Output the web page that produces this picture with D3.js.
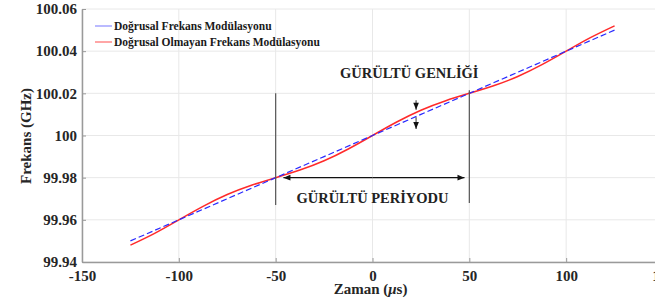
<!DOCTYPE html>
<html>
<head>
<meta charset="utf-8">
<script src="https://cdn.jsdelivr.net/npm/d3@7"></script>
<style>
  body { margin: 0; background: #fff; }
  svg text { font-family: "Liberation Serif", "Times New Roman", serif; font-weight: bold; }
</style>
</head>
<body>
<div id="chart"></div>
<script>
// Data
const timeLinear = [-125, -100, -75, -50, -25, 0, 25, 50, 75, 100, 125];
const freqLinear = [99.95, 99.96, 99.97, 99.98, 99.99, 100, 100.01, 100.02, 100.03, 100.04, 100.05];

const timeNonlinear = [-125, -112.5, -100, -87.5, -75, -62.5, -50, -37.5, -25, -12.5, 0,
                       12.5, 25, 37.5, 50, 62.5, 75, 87.5, 100, 112.5, 125];
const freqNonlinear = [99.948, 99.9536, 99.96, 99.9664, 99.972, 99.9764, 99.98, 99.9836, 99.988, 99.9936, 100,
                       100.0064, 100.012, 100.0164, 100.02, 100.0236, 100.028, 100.0336, 100.04, 100.0464, 100.052];

const xTicks = [-150, -100, -50, 0, 50, 100, 150];
const yTicks = [99.94, 99.96, 99.98, 100, 100.02, 100.04, 100.06];
const seriesNames = ['Doğrusal Frekans Modülasyonu', 'Doğrusal Olmayan Frekans Modülasyonu'];

// annotation anchors (data units)
const periodMarks = [{ t: -50, top: 100.02, bottom: 99.967 }, { t: 50, top: 100.0215, bottom: 99.968 }];
const periodArrow = { from: -46, to: 47.5, f: 99.98 };
const ampArrow = { t: 22.5, upper: [100.0167, 100.0122], lower: [100.0086, 100.0031] };

const width = 664, height = 300;
const plotLeft = 82, plotRight = 663, plotTop = 9, plotBottom = 262;

const svg = d3.select('#chart').append('svg')
    .attr('width', width)
    .attr('height', height);

const defs = svg.append('defs');
defs.append('marker')
    .attr('id', 'arrow')
    .attr('viewBox', '0 -5 10 10')
    .attr('refX', 10)
    .attr('refY', 0)
    .attr('orient', 'auto')
    .attr('markerUnits', 'userSpaceOnUse')
    .attr('markerWidth', 9)
    .attr('markerHeight', 7)
    .append('path')
    .attr('d', 'M0,-4L10,0L0,4Z')
    .attr('fill', '#111');

const x = d3.scaleLinear().domain([-150, 150]).range([plotLeft, plotRight]);
const y = d3.scaleLinear().domain([99.94, 100.06]).range([plotBottom, plotTop]);

// Grid
svg.append('g')
    .selectAll('line')
    .data(xTicks)
    .join('line')
    .attr('x1', d => x(d)).attr('x2', d => x(d))
    .attr('y1', plotTop).attr('y2', plotBottom)
    .attr('stroke', '#e8e8e8');

svg.append('g')
    .selectAll('line')
    .data(yTicks)
    .join('line')
    .attr('x1', plotLeft).attr('x2', plotRight)
    .attr('y1', d => y(d)).attr('y2', d => y(d))
    .attr('stroke', '#e8e8e8');

// Axes
const xAxis = svg.append('g')
    .attr('transform', `translate(0,${plotBottom})`)
    .call(d3.axisBottom(x).tickValues(xTicks).tickSizeInner(-4).tickSizeOuter(0).tickPadding(8)
        .tickFormat(d => d < 0 ? '-' + Math.abs(d) : String(d)));

const yAxis = svg.append('g')
    .attr('transform', `translate(${plotLeft},0)`)
    .call(d3.axisLeft(y).tickValues(yTicks).tickSizeInner(-4).tickSizeOuter(0).tickPadding(5)
        .tickFormat(d => String(+d.toFixed(2))));

[xAxis, yAxis].forEach(a => {
    a.select('.domain').attr('stroke', '#9a9a9a').attr('stroke-width', 1.5);
    a.selectAll('.tick line').attr('stroke', '#9a9a9a');
    a.selectAll('.tick text')
        .attr('fill', '#262626')
        .style('font-size', '15px')
        .style('font-family', '"Liberation Serif", serif')
        .style('font-weight', 'bold');
});

// Series
const line = d3.line().curve(d3.curveNatural);

svg.append('path')
    .datum(timeNonlinear.map((t, i) => [x(t), y(freqNonlinear[i])]))
    .attr('d', line)
    .attr('fill', 'none')
    .attr('stroke', '#ff2a2a')
    .attr('stroke-width', 1.5);

svg.append('path')
    .datum(timeLinear.map((t, i) => [x(t), y(freqLinear[i])]))
    .attr('d', d3.line())
    .attr('fill', 'none')
    .attr('stroke', '#2a2aff')
    .attr('stroke-width', 1.2)
    .attr('stroke-dasharray', '6,3');

// Annotations
const ann = svg.append('g');

ann.selectAll('line')
    .data(periodMarks)
    .join('line')
    .attr('x1', d => x(d.t)).attr('x2', d => x(d.t))
    .attr('y1', d => y(d.top)).attr('y2', d => y(d.bottom))
    .attr('stroke', '#555')
    .attr('stroke-width', 1.2);

[periodArrow.from, periodArrow.to].forEach(end => {
    ann.append('line')
        .attr('x1', x(0)).attr('x2', x(end))
        .attr('y1', y(periodArrow.f)).attr('y2', y(periodArrow.f))
        .attr('stroke', '#111').attr('stroke-width', 1.3)
        .attr('marker-end', 'url(#arrow)');
});

[ampArrow.upper, ampArrow.lower].forEach(([a, b]) => {
    ann.append('line')
        .attr('x1', x(ampArrow.t)).attr('x2', x(ampArrow.t))
        .attr('y1', y(a)).attr('y2', y(b))
        .attr('stroke', '#444').attr('stroke-width', 1.1)
        .attr('marker-end', 'url(#arrow)');
});

ann.append('text')
    .attr('x', x(0))
    .attr('y', 203)
    .attr('text-anchor', 'middle')
    .attr('fill', '#222')
    .style('font-size', '14.5px')
    .text('GÜRÜLTÜ PERİYODU');

ann.append('text')
    .attr('x', x(19))
    .attr('y', 78)
    .attr('text-anchor', 'middle')
    .attr('fill', '#222')
    .style('font-size', '14.5px')
    .text('GÜRÜLTÜ GENLİĞİ');

// Legend
const legendRows = svg.append('g')
    .selectAll('g')
    .data(seriesNames)
    .join('g')
    .attr('transform', (d, i) => `translate(95,${26 + i * 16})`);

legendRows.append('line')
    .attr('x1', 0).attr('x2', 17)
    .attr('stroke', (d, i) => i === 0 ? '#8c8cff' : '#ff6a6a')
    .attr('stroke-width', 1.2);

legendRows.append('text')
    .attr('x', 19)
    .attr('dy', '0.35em')
    .attr('fill', '#1a1a1a')
    .style('font-size', '11.5px')
    .text(d => d);

// Axis labels
svg.append('text')
    .attr('transform', 'translate(31,136) rotate(-90)')
    .attr('text-anchor', 'middle')
    .attr('fill', '#262626')
    .style('font-size', '15px')
    .text('Frekans (GHz)');

const xl = svg.append('text')
    .attr('x', x(-1))
    .attr('y', 294)
    .attr('text-anchor', 'middle')
    .attr('fill', '#262626')
    .style('font-size', '15px');
xl.append('tspan').text('Zaman (');
xl.append('tspan').style('font-style', 'italic').text('μ');
xl.append('tspan').text('s)');

// image is cut on the right edge
svg.append('rect')
    .attr('x', 655).attr('y', 0)
    .attr('width', width - 655).attr('height', height)
    .attr('fill', '#fff');
</script>
</body>
</html>
